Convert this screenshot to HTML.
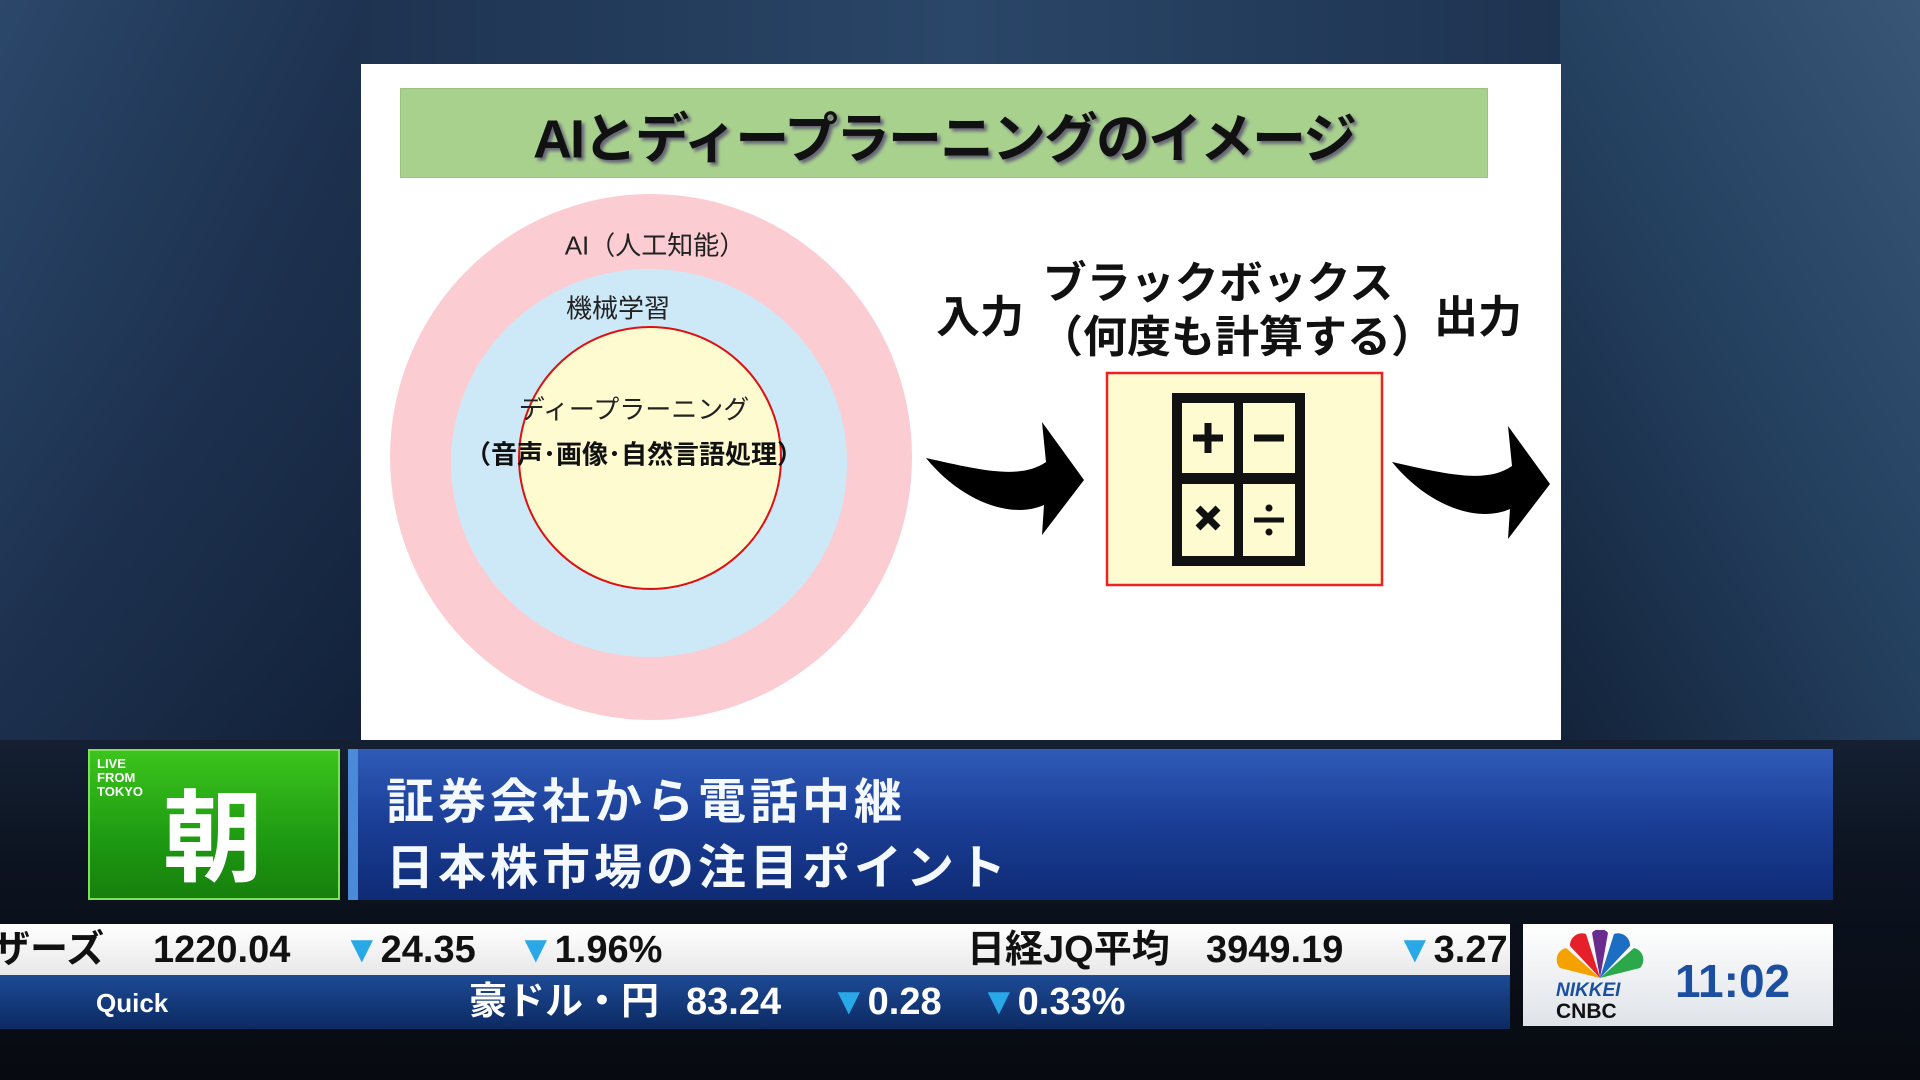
<!DOCTYPE html>
<html><head><meta charset="utf-8"><style>
*{margin:0;padding:0;box-sizing:border-box}
body{width:1920px;height:1080px;overflow:hidden;position:relative;font-family:"Liberation Sans","Noto Sans CJK JP",sans-serif;
background:linear-gradient(180deg,#1b2c44 0%,#243a57 30%,#1a2a40 60%,#0c1320 80%,#070a10 100%);}
.a{position:absolute;white-space:nowrap}
.t{position:absolute;transform:translate(-50%,-50%);white-space:nowrap;font-family:"Liberation Sans","Noto Sans CJK JP",sans-serif}
.tk span{position:absolute;top:0;line-height:46px;height:46px}
</style></head><body>
<div class="a" style="left:0;top:0;width:360px;height:740px;background:linear-gradient(120deg,#2d4a6e 0%,#1d3250 50%,#12213a 100%);opacity:.9"></div>
<div class="a" style="left:360px;top:0;width:1200px;height:64px;background:linear-gradient(90deg,#1e3350,#2a4668,#1e3350)"></div>
<div class="a" style="left:1560px;top:0;width:360px;height:740px;background:linear-gradient(240deg,#3a5677 0%,#24405f 50%,#13233a 100%)"></div>
<div class="a" style="left:361px;top:64px;width:1200px;height:676px;background:#fff"></div>
<div class="a" style="left:400px;top:88px;width:1088px;height:90px;background:#a9d18e;border:1px solid #9bc47f"></div>
<div class="t" style="left:944px;top:134px;font-size:54px;letter-spacing:-2px;font-weight:bold;color:#111;text-shadow:3px 3px 3px #667">AIとディープラーニングのイメージ</div>
<svg class="a" style="left:0;top:0" width="1920" height="1080">
<ellipse cx="651" cy="457" rx="261" ry="263" fill="#fbcdd3"/>
<ellipse cx="649" cy="463" rx="198" ry="194" fill="#cde9f8"/>
<circle cx="650" cy="458" r="131" fill="#fdfbcf" stroke="#d11" stroke-width="2"/>
<rect x="1107" y="373" width="275" height="212" fill="#fdfbcf" stroke="#e22" stroke-width="2.5"/>
<rect x="1172" y="393" width="133" height="173" fill="#111"/>
<rect x="1182" y="403" width="52" height="70" fill="#fdfbcf"/>
<rect x="1243" y="403" width="52" height="70" fill="#fdfbcf"/>
<rect x="1182" y="484" width="52" height="72" fill="#fdfbcf"/>
<rect x="1243" y="484" width="52" height="72" fill="#fdfbcf"/>
<path d="M1193 438h30M1208 423v30" stroke="#111" stroke-width="7"/>
<path d="M1254 438h30" stroke="#111" stroke-width="7"/>
<path d="M1198 508l20 20M1218 508l-20 20" stroke="#111" stroke-width="7"/>
<path d="M1254 520h30" stroke="#111" stroke-width="5"/><circle cx="1269" cy="508" r="3.5" fill="#111"/><circle cx="1269" cy="532" r="3.5" fill="#111"/>
<path d="M926 458 C980 470 1020 480 1046 462 L1042 422 L1084 480 L1042 535 L1044 505 C1010 520 960 500 926 458Z" fill="#000"/>
<path d="M1392 462 C1446 474 1486 484 1512 466 L1508 426 L1550 484 L1508 539 L1510 509 C1476 524 1426 504 1392 462Z" fill="#000"/>
</svg>
<div class="t" style="left:655px;top:244px;font-size:26px;color:#222">AI（人工知能）</div>
<div class="t" style="left:618px;top:307px;font-size:26px;color:#222">機械学習</div>
<div class="t" style="left:634px;top:408px;font-size:26px;color:#222">ディープラーニング</div>
<div class="t" style="left:634px;top:453px;font-size:26px;font-weight:bold;color:#111">（音声･画像･自然言語処理）</div>
<div class="t" style="left:980px;top:313px;font-size:44px;font-weight:bold;color:#111">入力</div>
<div class="t" style="left:1218px;top:279px;font-size:44px;font-weight:bold;color:#111">ブラックボックス</div>
<div class="t" style="left:1237px;top:333px;font-size:44px;font-weight:bold;color:#111">（何度も計算する）</div>
<div class="t" style="left:1478px;top:313px;font-size:44px;font-weight:bold;color:#111">出力</div>
<div class="a" style="left:88px;top:749px;width:252px;height:151px;background:linear-gradient(180deg,#3cc41c,#1e9a12 60%,#16800c);border:2px solid #7be25a"></div>
<div class="a" style="left:97px;top:757px;font-size:13px;line-height:14px;color:#fff;font-weight:bold">LIVE<br>FROM<br>TOKYO</div>
<div class="t" style="left:213px;top:830px;font-size:100px;color:#fff;font-weight:bold">朝</div>
<div class="a" style="left:348px;top:749px;width:1485px;height:151px;background:linear-gradient(180deg,#2f5bb8,#1a3d95 50%,#0f2b75);border-left:10px solid #4a8ad8"></div>
<div class="a" style="left:386px;top:762px;font-size:48px;color:#f4f8ff;font-weight:bold;letter-spacing:4px">証券会社から電話中継</div>
<div class="a" style="left:386px;top:828px;font-size:48px;color:#f4f8ff;font-weight:bold;letter-spacing:4px">日本株市場の注目ポイント</div>
<div class="a" style="left:0;top:924px;width:1510px;height:51px;background:linear-gradient(180deg,#fff,#e8e8e8)"></div>
<div class="a" style="left:0;top:975px;width:1510px;height:54px;background:linear-gradient(180deg,#1d4a95,#0c2a62)"></div>
<div class="a tk" style="left:0;top:927px;font-size:38px;font-weight:bold;color:#111;width:1510px;height:46px;overflow:hidden">
<span style="left:-8px">ザーズ</span><span style="left:153px">1220.04</span><span style="left:343px"><b style="color:#29a8e8">▼</b>24.35</span><span style="left:517px"><b style="color:#29a8e8">▼</b>1.96%</span><span style="left:967px">日経JQ平均</span><span style="left:1206px">3949.19</span><span style="left:1396px"><b style="color:#29a8e8">▼</b>3.27</span></div>
<div class="a" style="left:96px;top:988px;font-size:26px;font-weight:bold;color:#fff">Quick</div>
<div class="a tk" style="left:0;top:979px;font-size:38px;font-weight:bold;color:#fff;width:1510px;height:46px">
<span style="left:469px">豪ドル・円</span><span style="left:686px">83.24</span><span style="left:830px"><b style="color:#29a8e8">▼</b>0.28</span><span style="left:980px"><b style="color:#29a8e8">▼</b>0.33%</span></div>
<div class="a" style="left:1523px;top:924px;width:310px;height:102px;background:linear-gradient(180deg,#fff,#dfe3e8)"></div>
<svg class="a" style="left:1555px;top:930px" width="90" height="50"><g transform="translate(45,48)">
<path d="M0 0L-40-10A12 12 0 0 1-34-30Z" fill="#f5a200"/><path d="M0 0L-30-32A12 12 0 0 1-14-44Z" fill="#e5202a"/><path d="M0 0L-8-45A10 10 0 0 1 8-45Z" fill="#6a2b8e"/><path d="M0 0L14-44A12 12 0 0 1 30-32Z" fill="#1b6ec2"/><path d="M0 0L34-30A12 12 0 0 1 40-10Z" fill="#2aa84a"/></g></svg>
<div class="a" style="left:1556px;top:980px;font-size:19px;font-style:italic;font-weight:bold;color:#1b4fa0">NIKKEI</div>
<div class="a" style="left:1556px;top:1000px;font-size:21px;font-weight:bold;color:#111">CNBC</div>
<div class="a" style="left:1675px;top:954px;font-size:46px;font-weight:bold;color:#1d4fa0">11:02</div>
</body></html>
